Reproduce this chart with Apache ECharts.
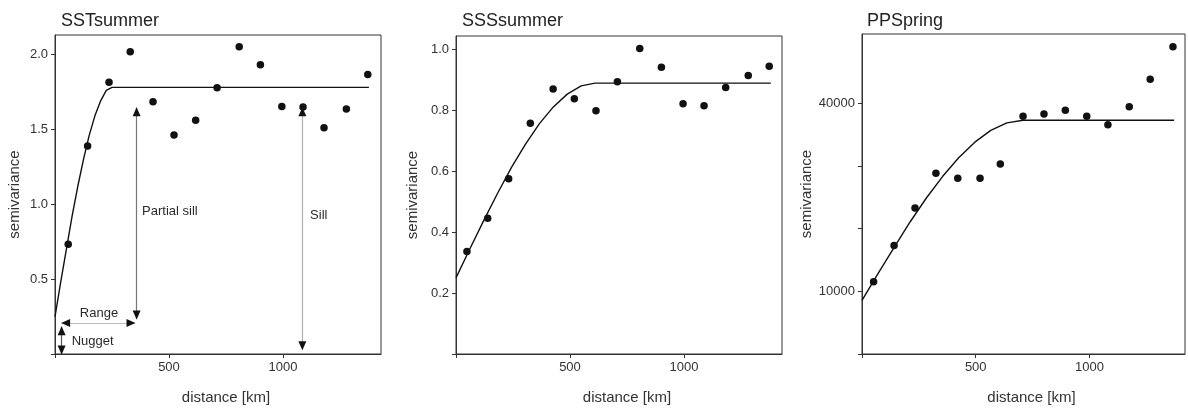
<!DOCTYPE html>
<html><head><meta charset="utf-8">
<script src="https://cdn.jsdelivr.net/npm/echarts@6/dist/echarts.min.js"></script>
<style>html,body{margin:0;padding:0;background:#fff}#c{width:1188px;height:410px}</style>
</head><body><div id="c"></div>
<script>
// ---------- data ----------
const panelTitles = ['SSTsummer', 'SSSsummer', 'PPSpring'];
const xAxisName = 'distance [km]';
const yAxisName = 'semivariance';

const xTickValues = [0, 500, 1000];
const sstYTicks = [0, 0.5, 1.0, 1.5, 2.0];
const sssYTicks = [0, 0.2, 0.4, 0.6, 0.8, 1.0];
const ppYTicks = [0, 10000, 20000, 30000, 40000];
const ppShownLabels = [10000, 40000];

const sstLag = [58, 143, 237, 330, 430, 522, 617, 711, 808, 901, 995, 1088, 1180, 1278, 1372];
const sstGamma = [0.733, 1.389, 1.815, 2.018, 1.685, 1.462, 1.56, 1.778, 2.051, 1.931, 1.653, 1.649, 1.511, 1.636, 1.867];
const sstModelLag = [0, 25, 50, 75, 100, 125, 150, 175, 200, 225, 250, 1377];
const sstModelGamma = [0.25, 0.48, 0.70, 0.92, 1.12, 1.30, 1.46, 1.59, 1.69, 1.76, 1.78, 1.78];

const sssLag = [48, 139, 231, 326, 426, 519, 614, 708, 806, 901, 996, 1088, 1183, 1282, 1374];
const sssGamma = [0.337, 0.446, 0.576, 0.758, 0.871, 0.839, 0.799, 0.895, 1.004, 0.942, 0.822, 0.816, 0.876, 0.915, 0.946];
const sssModelLag = [0, 61, 122, 183, 244, 305, 366, 427, 488, 549, 610, 1381];
const sssModelGamma = [0.25, 0.346, 0.439, 0.529, 0.614, 0.690, 0.757, 0.812, 0.854, 0.881, 0.89, 0.89];

const ppLag = [51, 141, 233, 325, 421, 519, 608, 708, 800, 894, 988, 1081, 1175, 1267, 1367];
const ppGamma = [11500, 17300, 23250, 28800, 28000, 28000, 30300, 37900, 38250, 38850, 37900, 36550, 39400, 43800, 48950];
const ppModelLag = [0, 71, 142, 212, 283, 354, 425, 496, 566, 637, 708, 1372];
const ppModelGamma = [8560, 12850, 17050, 21080, 24860, 28280, 31280, 33760, 35640, 36830, 37250, 37250];

// annotations on the first panel (data coordinates)
const annotationLabels = ['Nugget', 'Range', 'Partial sill', 'Sill'];
const annotationAnchors = [[73, 0.087], [193, 0.273], [382, 0.955], [1119, 0.922]];
const arrowShafts = [
  [[29, 0.0], [29, 0.182]],
  [[29, 0.207], [351, 0.207]],
  [[358, 0.233], [358, 1.645]],
  [[1085, 0.029], [1085, 1.645]]
];

// ---------- styles ----------
const FONT = '"Liberation Sans", Arial, sans-serif';
const ink = '#333';
const shaftColors = ['#555', '#bbb', '#777', '#b0b0b0'];

const grids = [
  {left: 55, top: 35, width: 326, height: 320},
  {left: 456, top: 36, width: 326, height: 319},
  {left: 862, top: 34, width: 323, height: 321}
].map(g => Object.assign({show: true, borderColor: ink, borderWidth: 1, containLabel: false}, g));

const xMax = [1430, 1430, 1420];
const yCfg = [
  {max: 2.13, ticks: sstYTicks, fmt: v => v === 0 ? '' : v.toFixed(1), gap: 33},
  {max: 1.045, ticks: sssYTicks, fmt: v => v === 0 ? '' : v.toFixed(1), gap: 36},
  {max: 51000, ticks: ppYTicks, fmt: v => ppShownLabels.includes(v) ? String(v) : '', gap: 48}
];

const xAxes = grids.map((g, i) => ({
  gridIndex: i, type: 'value', min: 0, max: xMax[i],
  name: xAxisName, nameLocation: 'middle', nameGap: 36,
  nameTextStyle: {fontFamily: FONT, fontSize: 15, color: ink, padding: [0, 0, 0, 16]},
  axisLine: {show: true, onZero: false, lineStyle: {color: ink, width: 1}},
  axisTick: {show: true, inside: false, length: 4, lineStyle: {color: ink}, customValues: xTickValues},
  axisLabel: {fontFamily: FONT, fontSize: 13, color: ink, margin: 7, customValues: xTickValues,
    formatter: v => v === 0 ? '' : String(v)},
  splitLine: {show: false}
}));

const yAxes = grids.map((g, i) => ({
  gridIndex: i, type: 'value', min: 0, max: yCfg[i].max,
  name: yAxisName, nameLocation: 'middle', nameGap: yCfg[i].gap, nameRotate: 90,
  nameTextStyle: {fontFamily: FONT, fontSize: 15, color: ink},
  axisLine: {show: true, onZero: false, lineStyle: {color: ink, width: 1}},
  axisTick: {show: true, inside: false, length: 4, lineStyle: {color: ink}, customValues: yCfg[i].ticks},
  axisLabel: {fontFamily: FONT, fontSize: 13, color: ink, margin: 7, customValues: yCfg[i].ticks,
    formatter: yCfg[i].fmt},
  splitLine: {show: false}
}));

const titles = panelTitles.map((t, i) => ({
  text: t, left: [56, 457, 862][i], top: 7,
  textStyle: {fontFamily: FONT, fontSize: 18, fontWeight: 'normal', color: '#222'}
}));

function pointSeries(i, xs, ys) {
  return {
    type: 'scatter', xAxisIndex: i, yAxisIndex: i, symbol: 'circle', symbolSize: 7.5,
    itemStyle: {color: '#111', opacity: 1}, z: 5, silent: true,
    data: xs.map((x, k) => [x, ys[k]])
  };
}
function modelSeries(i, xs, ys) {
  return {
    type: 'line', xAxisIndex: i, yAxisIndex: i, showSymbol: false, symbol: 'none', smooth: false,
    lineStyle: {color: '#111', width: 1.4}, z: 4, silent: true,
    data: xs.map((x, k) => [x, ys[k]])
  };
}

// arrowheads from shaft ends
const headData = [];
arrowShafts.forEach(s => {
  const [a, b] = s;
  if (a[0] === b[0]) { // vertical: a bottom, b top
    headData.push({value: a, symbolRotate: 180, symbolOffset: [0, -4]});
    headData.push({value: b, symbolRotate: 0, symbolOffset: [0, 4]});
  } else { // horizontal: a left, b right
    headData.push({value: a, symbolRotate: 90, symbolOffset: [4, 0]});
    headData.push({value: b, symbolRotate: -90, symbolOffset: [-4, 0]});
  }
});

const labelSeries = {
  type: 'scatter', xAxisIndex: 0, yAxisIndex: 0, symbolSize: 0, silent: true, z: 6,
  itemStyle: {opacity: 1},
  data: annotationLabels.map((t, k) => ({
    value: annotationAnchors[k], name: t,
    label: {
      show: true, formatter: t, fontFamily: FONT, fontSize: 13, color: '#2a2a2a', opacity: 1,
      position: t === 'Range' ? 'inside' : 'right', distance: 0
    }
  })),
  markLine: {
    silent: true, symbol: 'none', animation: false,
    label: {show: false},
    lineStyle: {type: 'solid', width: 1.2},
    data: arrowShafts.map((s, k) => [
      {coord: s[0], lineStyle: {color: shaftColors[k], type: 'solid', width: 1.2}},
      {coord: s[1]}
    ])
  }
};

const headSeries = {
  type: 'scatter', xAxisIndex: 0, yAxisIndex: 0, symbol: 'triangle', symbolSize: [8, 9],
  itemStyle: {color: '#111', opacity: 1}, silent: true, z: 7, data: headData
};

const option = {
  animation: false,
  backgroundColor: '#fff',
  title: titles,
  grid: grids,
  xAxis: xAxes,
  yAxis: yAxes,
  series: [
    modelSeries(0, sstModelLag, sstModelGamma), pointSeries(0, sstLag, sstGamma),
    modelSeries(1, sssModelLag, sssModelGamma), pointSeries(1, sssLag, sssGamma),
    modelSeries(2, ppModelLag, ppModelGamma), pointSeries(2, ppLag, ppGamma),
    labelSeries, headSeries
  ]
};

const chart = echarts.init(document.getElementById('c'), null, {renderer: 'canvas'});
chart.setOption(option);
</script>
</body></html>
